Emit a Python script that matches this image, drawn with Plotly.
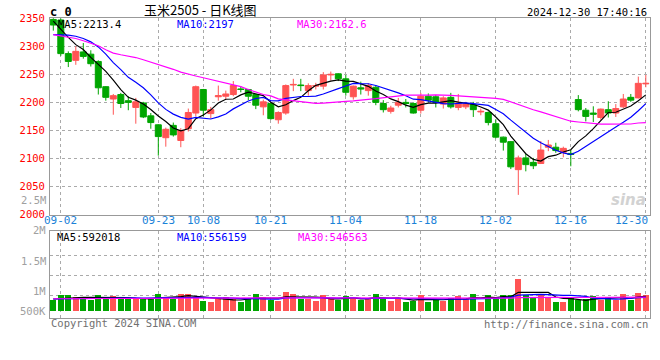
import plotly.graph_objects as go
import pandas as pd

# ---------------- data ----------------
dates = ["08-30",
         "09-02", "09-03", "09-04", "09-05", "09-06", "09-09", "09-10", "09-11", "09-12", "09-13",
         "09-18", "09-19", "09-20", "09-23", "09-24", "09-25", "09-26", "09-27", "09-30",
         "10-08", "10-09", "10-10", "10-11", "10-14", "10-15", "10-16", "10-17", "10-18",
         "10-21", "10-22", "10-23", "10-24", "10-25", "10-28", "10-29", "10-30", "10-31", "11-01",
         "11-04", "11-05", "11-06", "11-07", "11-08", "11-11", "11-12", "11-13", "11-14", "11-15",
         "11-18", "11-19", "11-20", "11-21", "11-22", "11-25", "11-26", "11-27", "11-28", "11-29",
         "12-02", "12-03", "12-04", "12-05", "12-06", "12-09", "12-10", "12-11", "12-12", "12-13",
         "12-16", "12-17", "12-18", "12-19", "12-20", "12-23", "12-24", "12-25", "12-26", "12-27",
         "12-30"]

opens = [2348, 2347, 2287, 2275, 2290, 2286, 2273, 2228, 2206, 2214,
         2203, 2191, 2199, 2176, 2160, 2137, 2159, 2132, 2153, 2181,
         2223, 2180, 2210, 2211, 2214, 2224, 2223, 2214, 2192, 2198,
         2169, 2181, 2231, 2231, 2221, 2229, 2229, 2249, 2251, 2242,
         2210, 2226, 2221, 2227, 2198, 2184, 2195, 2200, 2198, 2186,
         2211, 2210, 2197, 2209, 2191, 2192, 2196, 2183, 2182, 2162,
         2138, 2130, 2080, 2101, 2093, 2091, 2120, 2120, 2111, 2109,
         2205, 2186, 2181, 2173, 2187, 2181, 2192, 2209, 2208, 2233]
highs = [2352, 2350, 2291, 2300, 2306, 2293, 2275, 2229, 2215, 2217,
         2211, 2208, 2201, 2181, 2161, 2155, 2164, 2154, 2189, 2230,
         2224, 2192, 2230, 2221, 2238, 2229, 2224, 2216, 2205, 2199,
         2184, 2232, 2242, 2242, 2234, 2235, 2254, 2255, 2252, 2249,
         2230, 2237, 2234, 2231, 2204, 2194, 2208, 2206, 2200, 2217,
         2216, 2213, 2211, 2217, 2215, 2201, 2201, 2189, 2184, 2170,
         2139, 2131, 2105, 2108, 2101, 2131, 2133, 2128, 2121, 2115,
         2213, 2190, 2193, 2189, 2202, 2197, 2215, 2215, 2246, 2249]
lows = [2328, 2283, 2263, 2267, 2278, 2264, 2214, 2203, 2178, 2190,
        2186, 2162, 2172, 2153, 2105, 2121, 2139, 2120, 2148, 2175,
        2175, 2171, 2203, 2205, 2211, 2218, 2204, 2188, 2177, 2169,
        2162, 2178, 2220, 2220, 2212, 2223, 2223, 2239, 2238, 2212,
        2205, 2214, 2212, 2195, 2182, 2180, 2191, 2191, 2180, 2180,
        2200, 2191, 2189, 2189, 2186, 2188, 2174, 2177, 2159, 2136,
        2114, 2081, 2035, 2077, 2081, 2090, 2113, 2110, 2102, 2086,
        2184, 2166, 2165, 2169, 2173, 2174, 2190, 2201, 2207, 2227]
closes = [2338, 2287, 2273, 2291, 2282, 2269, 2226, 2209, 2212, 2198,
          2200, 2201, 2174, 2164, 2139, 2152, 2142, 2150, 2182, 2228,
          2186, 2187, 2212, 2215, 2230, 2223, 2211, 2195, 2201, 2171,
          2182, 2230, 2232, 2230, 2230, 2230, 2249, 2250, 2242, 2218,
          2229, 2224, 2230, 2200, 2187, 2190, 2200, 2198, 2181, 2211,
          2204, 2200, 2208, 2192, 2199, 2197, 2187, 2184, 2164, 2138,
          2129, 2085, 2101, 2089, 2087, 2115, 2124, 2114, 2118, 2107,
          2187, 2175, 2179, 2188, 2181, 2189, 2206, 2204, 2234, 2234]
volumes = [440000, 640000, 640000, 548000, 468000, 440000, 640000, 508000, 600000, 468000,
           468000, 508000, 468000, 508000, 680000, 548000, 468000, 680000, 680000, 548000,
           400000, 348000, 468000, 548000, 468000, 372000, 508000, 680000, 548000, 440000,
           400000, 760000, 680000, 468000, 468000, 400000, 640000, 468000, 440000, 600000,
           468000, 440000, 532000, 680000, 508000, 400000, 508000, 360000, 400000, 640000,
           372000, 440000, 400000, 508000, 612000, 468000, 680000, 360000, 640000, 548000,
           640000, 640000, 1280000, 640000, 548000, 680000, 572000, 360000, 360000, 508000,
           440000, 468000, 600000, 440000, 548000, 440000, 680000, 440000, 732000, 640000]

# moving-average values before enough candles are on screen
ma5_head = [2345, 2330, 2316, 2303]
ma10_head = [2321, 2321, 2320, 2318, 2314, 2308, 2299, 2286, 2271]
ma30_head = [2321, 2319, 2317, 2314, 2310, 2305, 2301, 2294, 2288, 2285,
             2283, 2280, 2276, 2272, 2268, 2264, 2259, 2254, 2250, 2247,
             2244, 2241, 2238, 2235, 2232, 2228, 2223, 2218, 2214]
vma5_head = [480000, 500000, 520000, 540000]
vma10_head = [480000, 485000, 490000, 495000, 500000, 505000, 510000, 520000, 530000]
vma30_head = [490000, 492000, 494000, 495000, 496000, 497000, 498000, 499000, 500000, 501000,
              502000, 503000, 504000, 505000, 506000, 507000, 508000, 509000, 510000, 511000,
              512000, 513000, 514000, 515000, 516000, 517000, 518000, 519000, 520000]

tick_dates = ["09-02", "09-23", "10-08", "10-21", "11-04", "11-18", "12-02", "12-16", "12-30"]
price_ticks = [2000, 2050, 2100, 2150, 2200, 2250, 2300, 2350]
vol_label_text = ["2.5M", "2M", "1.5M", "1M", "500K"]

title_text = "玉米2505 - 日K线图"
ma_text = ["MA5:2213.4", "MA10:2197", "MA30:2162.6"]
vma_text = ["MA5:592018", "MA10:556159", "MA30:546563"]

# ---------------- helpers ----------------
def moving(values, n, head):
    s = pd.Series(values, dtype=float).rolling(n).mean().tolist()
    s[:len(head)] = head
    return s

x = list(range(len(dates)))
ma5 = moving(closes, 5, ma5_head)
ma10 = moving(closes, 10, ma10_head)
ma30 = moving(closes, 30, ma30_head)
vma5 = moving(volumes, 5, vma5_head)
vma10 = moving(volumes, 10, vma10_head)
vma30 = moving(volumes, 30, vma30_head)

RED = "#ff5454"
GREEN = "#00a600"
GRID = "#aaaaaa"
FRAME = "#999999"
MONO = "DejaVu Sans Mono, Liberation Mono, monospace"
W, H = 660, 360

def px_x(p):
    return p / W

def px_y(p):
    return 1 - p / H

vol_colors = [RED if c > o else GREEN for o, c in zip(opens, closes)]
tick_idx = [dates.index(d) for d in tick_dates]

fig = go.Figure()
fig.add_trace(go.Candlestick(
    x=x, open=opens, high=highs, low=lows, close=closes,
    increasing=dict(line=dict(color=RED, width=1), fillcolor=RED),
    decreasing=dict(line=dict(color=GREEN, width=1), fillcolor=GREEN),
    whiskerwidth=0, xaxis="x", yaxis="y", hoverinfo="skip"))
for ys, col in [(ma5, "#000000"), (ma10, "#0000ff"), (ma30, "#ff00ff")]:
    fig.add_trace(go.Scatter(x=x, y=ys, mode="lines", line=dict(color=col, width=1.2),
                             xaxis="x", yaxis="y", hoverinfo="skip"))

fig.add_trace(go.Bar(x=x, y=volumes, marker=dict(color=vol_colors, line=dict(width=0)),
                     width=0.8, xaxis="x2", yaxis="y2", hoverinfo="skip"))
for ys, col in [(vma5, "#000000"), (vma10, "#0000ff"), (vma30, "#ff00ff")]:
    fig.add_trace(go.Scatter(x=x, y=ys, mode="lines", line=dict(color=col, width=1.2),
                             xaxis="x2", yaxis="y2", hoverinfo="skip"))

xr = [-0.44, len(dates) - 0.44]
axis_common = dict(showline=True, linecolor=FRAME, linewidth=1, mirror=True, automargin=False,
                   zeroline=False, gridcolor=GRID, griddash="dot", gridwidth=1, ticks="")

fig.update_layout(
    width=W, height=H, margin=dict(l=0, r=0, t=0, b=0, pad=0), autosize=False,
    paper_bgcolor="white", plot_bgcolor="white", showlegend=False,
    boxgap=0.2, boxgroupgap=0, bargap=0,
    xaxis=dict(domain=[px_x(50), px_x(650)], range=xr, anchor="y",
               tickvals=tick_idx, showticklabels=False, showgrid=True,
               rangeslider=dict(visible=False), **axis_common),
    yaxis=dict(domain=[px_y(214.5), px_y(18.3)], range=[2000, 2350], anchor="x",
               tickvals=price_ticks, ticktext=[str(v) for v in price_ticks],
               tickfont=dict(family=MONO, size=10.5, color="#ff0000"), showgrid=True,
               ticklabelstandoff=2, **axis_common),
    xaxis2=dict(domain=[px_x(50), px_x(650)], range=xr, anchor="y2",
                tickvals=tick_idx, showticklabels=False, showgrid=True, **axis_common),
    yaxis2=dict(domain=[px_y(318), px_y(231)], range=[-280000, 3200000], anchor="x2",
                tickvals=[640000, 1440000, 2210000], showticklabels=False, showgrid=True,
                **axis_common),
)

ann = []
# x tick labels
for i, (d, k) in enumerate(zip(tick_dates, tick_idx)):
    if i == len(tick_dates) - 1:
        ann.append(dict(x=px_x(650), xref="paper", xanchor="right", y=px_y(220), yref="paper",
                        yanchor="middle", text=d, showarrow=False,
                        font=dict(family=MONO, size=11, color="#1a82d8")))
    else:
        ann.append(dict(x=k, xref="x", xanchor="center", y=px_y(220), yref="paper",
                        yanchor="middle", text=d, showarrow=False,
                        font=dict(family=MONO, size=11, color="#1a82d8")))
# volume axis labels (gray)
for t, yy in zip(vol_label_text, [200, 230, 260.5, 290.5, 310.5]):
    ann.append(dict(x=px_x(48), xref="paper", xanchor="right", y=px_y(yy), yref="paper",
                    yanchor="middle", text=t, showarrow=False,
                    font=dict(family=MONO, size=10.5, color="#a0a0a0")))
# MA labels
for t, xx, col in zip(ma_text, [56, 175, 295], ["#000000", "#0000ff", "#ff00ff"]):
    ann.append(dict(x=px_x(xx), xref="paper", xanchor="left", y=px_y(24), yref="paper",
                    yanchor="middle", text=t, showarrow=False,
                    font=dict(family=MONO, size=10.5, color=col)))
for t, xx, col in zip(vma_text, [55, 175, 296], ["#000000", "#0000ff", "#ff00ff"]):
    ann.append(dict(x=px_x(xx), xref="paper", xanchor="left", y=px_y(237), yref="paper",
                    yanchor="middle", text=t, showarrow=False,
                    font=dict(family=MONO, size=10.5, color=col)))
# header
ann.append(dict(x=px_x(200), xref="paper", xanchor="center", y=px_y(9), yref="paper",
                yanchor="middle", text=title_text, showarrow=False,
                font=dict(family="Noto Sans CJK SC", size=13, color="#000000")))
ann.append(dict(x=px_x(48), xref="paper", xanchor="left", y=px_y(12), yref="paper",
                yanchor="middle", text="<b>c 0</b>", showarrow=False,
                font=dict(family=MONO, size=12, color="#000000")))
ann.append(dict(x=px_x(649), xref="paper", xanchor="right", y=px_y(12), yref="paper",
                yanchor="middle", text="2024-12-30 17:40:16", showarrow=False,
                font=dict(family=MONO, size=10.5, color="#000000")))
# footer
ann.append(dict(x=px_x(49), xref="paper", xanchor="left", y=px_y(323), yref="paper",
                yanchor="middle", text="Copyright 2024 SINA.COM", showarrow=False,
                font=dict(family=MONO, size=10.5, color="#707070")))
ann.append(dict(x=px_x(650), xref="paper", xanchor="right", y=px_y(324), yref="paper",
                yanchor="middle", text="http://finance.sina.com.cn", showarrow=False,
                font=dict(family=MONO, size=10.5, color="#707070")))
# watermark
ann.append(dict(x=px_x(648), xref="paper", xanchor="right", y=px_y(200), yref="paper",
                yanchor="middle", text="<b><i>sina</i></b>", showarrow=False,
                font=dict(family="DejaVu Sans", size=15, color="#d2d2d2")))
fig.update_layout(annotations=ann)

fig.write_html("out.html", config={"displayModeBar": False},
               post_script="document.body.style.margin='0px';document.body.style.overflow='hidden';")
